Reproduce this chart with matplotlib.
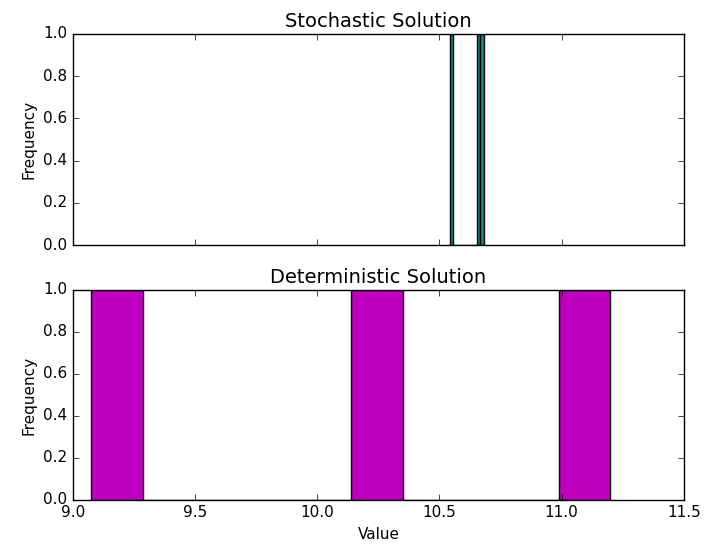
import matplotlib
matplotlib.use("Agg")
import matplotlib.pyplot as plt

stochastic_values = [10.541, 10.660, 10.681]
deterministic_values = [9.075, 10.25, 11.2]
n_bins = 10
x_ticks = [9.0, 9.5, 10.0, 10.5, 11.0, 11.5]
y_ticks = [0.0, 0.2, 0.4, 0.6, 0.8, 1.0]

plt.style.use('classic')
fig = plt.figure(figsize=(7.1, 5.44), dpi=100, facecolor='white')
ax1 = fig.add_axes([0.103, 0.5496, 0.860, 0.388])
ax2 = fig.add_axes([0.103, 0.081, 0.860, 0.386], sharex=ax1)

ax1.hist(stochastic_values, bins=n_bins, color='#138a8a', edgecolor='black')
ax2.hist(deterministic_values, bins=n_bins, color='m', edgecolor='black')

for ax, title in [(ax1, 'Stochastic Solution'), (ax2, 'Deterministic Solution')]:
    ax.set_xlim(9.0, 11.5)
    ax.set_ylim(0, 1.0)
    ax.set_yticks(y_ticks)
    ax.set_xticks(x_ticks)
    ax.set_ylabel('Frequency', fontsize=11)
    ax.set_title(title, fontsize=14)
    ax.tick_params(labelsize=11)

plt.setp(ax1.get_xticklabels(), visible=False)
ax2.set_xlabel('Value', fontsize=11)

fig.savefig('out.png', dpi=100, facecolor='white')
